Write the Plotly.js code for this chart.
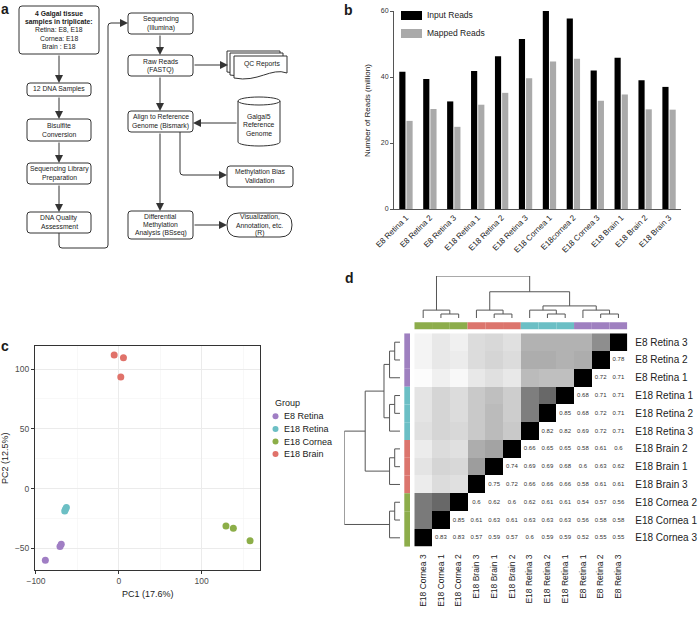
<!DOCTYPE html>
<html><head><meta charset="utf-8">
<script src="https://cdn.plot.ly/plotly-3.0.1.min.js"></script>
<style>html,body{margin:0;padding:0;background:#fff}#chart{width:700px;height:617px}</style>
</head><body><div id="chart"></div>
<script>
const W = 700, H = 617;
const FONT = 'Liberation Sans, Arial, Helvetica, sans-serif';

// ---------------- DATA ----------------
// Panel b
const barLabels = ['E8 Retina 1','E8 Retina 2','E8 Retina 3','E18 Retina 1','E18 Retina 2','E18 Retina 3','E18 Cornea 1','E18cornea 2','E18 Cornea 3','E18 Brain 1','E18 Brain 2','E18 Brain 3'];
const inputReads  = [41.6, 39.4, 32.6, 41.8, 46.3, 51.5, 60.1, 57.7, 42.0, 45.8, 39.0, 37.0];
const mappedReads = [26.7, 30.3, 24.9, 31.6, 35.2, 39.6, 44.7, 45.5, 32.8, 34.7, 30.2, 30.1];

// Panel c
const pcaGroups = ['E8 Retina','E18 Retina','E18 Cornea','E18 Brain'];
const groupColors = ['#a07ec4','#6cbfc4','#8cae48','#e0726a'];
const e8RetinaPC1  = [-69.5, -71.0, -88.7];
const e8RetinaPC2  = [-46.5, -48.5, -60.0];
const e18RetinaPC1 = [-63.3, -64.4, -65.3];
const e18RetinaPC2 = [-15.9, -17.3, -18.7];
const e18CorneaPC1 = [129.4, 138.3, 158.5];
const e18CorneaPC2 = [-31.3, -33.2, -43.6];
const e18BrainPC1  = [-5.6, 5.6, 2.4];
const e18BrainPC2  = [111.7, 109.5, 93.3];

// Panel d
const rowOrder = ['E8 Retina 3','E8 Retina 2','E8 Retina 1','E18 Retina 1','E18 Retina 2','E18 Retina 3','E18 Brain 2','E18 Brain 1','E18 Brain 3','E18 Cornea 2','E18 Cornea 1','E18 Cornea 3'];
const colOrder = rowOrder.slice().reverse();
// correlations to the right of the diagonal, per row (left to right)
const corrValues = [
  [],
  [0.78],
  [0.72, 0.71],
  [0.68, 0.71, 0.71],
  [0.85, 0.68, 0.72, 0.71],
  [0.82, 0.82, 0.69, 0.72, 0.71],
  [0.66, 0.65, 0.65, 0.58, 0.61, 0.6],
  [0.74, 0.69, 0.69, 0.68, 0.6, 0.63, 0.62],
  [0.75, 0.72, 0.66, 0.66, 0.66, 0.58, 0.61, 0.61],
  [0.6, 0.62, 0.6, 0.62, 0.61, 0.61, 0.54, 0.57, 0.56],
  [0.85, 0.61, 0.63, 0.61, 0.63, 0.63, 0.63, 0.56, 0.58, 0.58],
  [0.83, 0.83, 0.57, 0.59, 0.57, 0.6, 0.59, 0.59, 0.52, 0.55, 0.55]
];
// hierarchical clustering merges
const mergeLeft   = ['E18 Cornea 1','E18 Brain 1','E18 Retina 1','E8 Retina 2','E18 Cornea 3','E18 Brain 3','E18 Retina 3','E8 Retina 1','m6','m5','m4'];
const mergeRight  = ['E18 Cornea 2','E18 Brain 2','E18 Retina 2','E8 Retina 3','m0','m1','m2','m3','m7','m8','m9'];
const mergeHeight = [0.038, 0.038, 0.038, 0.038, 0.075, 0.075, 0.075, 0.075, 0.115, 0.25, 0.40];
const heatGroups = ['E8 Retina','E18 Retina','E18 Brain','E18 Cornea'];
const heatGroupColors = ['#9f80c0','#6bbfc5','#dc756d','#8dad4b'];

// ---------------- HELPERS ----------------
const px = x => x / W;
const py = y => 1 - y / H;
const P = (x, y) => `${px(x)},${py(y)}`;
function roundRect(x0, y0, x1, y1, r) {
  return `M${P(x0+r,y0)} L${P(x1-r,y0)} Q${P(x1,y0)} ${P(x1,y0+r)} L${P(x1,y1-r)} Q${P(x1,y1)} ${P(x1-r,y1)} L${P(x0+r,y1)} Q${P(x0,y1)} ${P(x0,y1-r)} L${P(x0,y0+r)} Q${P(x0,y0)} ${P(x0+r,y0)} Z`;
}
const shapes = [];
const annotations = [];
const LC = '#333';
function pathShape(path, fill) {
  shapes.push({type:'path', xref:'paper', yref:'paper', path, fillcolor: fill || 'rgba(0,0,0,0)', line:{color:LC, width:1}, layer:'above'});
}
function label(x, y, text, size, opts) {
  annotations.push(Object.assign({xref:'paper', yref:'paper', x:px(x), y:py(y), text, showarrow:false,
    font:{family:FONT, size, color:'#1a1a1a'}, xanchor:'center', yanchor:'middle', borderpad:0}, opts || {}));
}
function lines(cx, cy, lineList, size, gap) {
  const n = lineList.length;
  lineList.forEach((t, i) => label(cx, cy + (i - (n - 1) / 2) * gap, t, size));
}
function box(x0, y0, x1, y1, lineList, r) {
  pathShape(roundRect(x0, y0, x1, y1, r === undefined ? 3 : r), '#fff');
  lines((x0+x1)/2, (y0+y1)/2, lineList, 6.8, 8.2);
}
function arrow(tx, ty, hx, hy) {
  annotations.push({xref:'paper', yref:'paper', x:px(hx), y:py(hy), ax:tx-hx, ay:ty-hy, text:'', showarrow:true,
    arrowhead:2, arrowsize:1.6, arrowwidth:1, arrowcolor:LC, standoff:0});
}
function docPath(x0, y0, x1, y1) {
  const w = x1 - x0;
  return `M${P(x0,y0)} L${P(x1,y0)} L${P(x1,y1-5)} C${P(x1-0.3*w,y1-11)} ${P(x0+0.45*w,y1+5)} ${P(x0,y1)} Z`;
}

// ---------------- PANEL A (flowchart) ----------------
box(19, 6, 99, 54, ['<b>4 Galgal tissue</b>','<b>samples in triplicate:</b>','Retina: E8, E18','Cornea: E18','Brain : E18']);
box(27, 83, 91, 96, ['12 DNA Samples']);
box(27, 119, 91, 141, ['Bisulfite','Conversion']);
box(27, 163, 91, 184, ['Sequencing Library','Preparation']);
box(27, 212, 91, 233, ['DNA Quality','Assessment']);
arrow(59, 54, 59, 83); arrow(59, 96, 59, 119); arrow(59, 141, 59, 163); arrow(59, 184, 59, 212);
pathShape(`M${P(59,233)} L${P(59,245)} Q${P(59,248)} ${P(62,248)} L${P(105,248)} Q${P(108,248)} ${P(108,245)} L${P(108,26)} Q${P(108,23)} ${P(111,23)} L${P(120,23)}`);
arrow(119, 23, 128, 23);
box(128, 13, 193, 34, ['Sequencing','(Illumina)']);
arrow(160, 34, 160, 55);
box(128, 55, 193, 76, ['Raw Reads','(FASTQ)']);
arrow(193, 65, 228, 65);
pathShape(docPath(227, 51, 280, 72), '#fff');
pathShape(docPath(230, 53, 283, 75), '#fff');
pathShape(docPath(234, 56, 287, 78), '#fff');
label(262, 64, 'QC Reports', 6.8);
arrow(160, 76, 160, 111);
box(128, 111, 193, 132, ['Align to Reference','Genome (Bismark)']);
// cylinder
(function(){
  const x0 = 238, x1 = 280, yt = 97, yb = 146, ry = 4, cx = 259, rx = 21, k = 0.5523;
  const c = yt + ry, b = yb - ry;
  pathShape(`M${P(x0,c)} L${P(x0,b)} C${P(x0,b+k*ry)} ${P(cx-k*rx,yb)} ${P(cx,yb)} C${P(cx+k*rx,yb)} ${P(x1,b+k*ry)} ${P(x1,b)} L${P(x1,c)} C${P(x1,c-k*ry)} ${P(cx+k*rx,yt)} ${P(cx,yt)} C${P(cx-k*rx,yt)} ${P(x0,c-k*ry)} ${P(x0,c)} Z`, '#fff');
  pathShape(`M${P(x0,c)} C${P(x0,c+k*ry)} ${P(cx-k*rx,c+ry)} ${P(cx,c+ry)} C${P(cx+k*rx,c+ry)} ${P(x1,c+k*ry)} ${P(x1,c)}`);
  lines(259, 125, ['Galgal5','Reference','Genome'], 6.8, 8.2);
})();
arrow(238, 123, 193, 123);
pathShape(`M${P(180,132)} L${P(180,172)} Q${P(180,175)} ${P(183,175)} L${P(219,175)}`);
arrow(218, 175, 227, 175);
box(227, 166, 293, 187, ['Methylation Bias','Validation']);
arrow(160, 132, 160, 211);
box(128, 211, 193, 239, ['Differential','Methylation','Analysis (BSseq)']);
arrow(193, 225, 227, 225);
box(227, 213, 292, 237, ['Visualization,','Annotation, etc.','(R)'], 12);

// panel letters
label(5, 9, '<b>a</b>', 14);
label(348, 10, '<b>b</b>', 14);
label(5, 346, '<b>c</b>', 14);
label(349, 278, '<b>d</b>', 14);

// ---------------- PANEL B (bars) ----------------
const traces = [];
traces.push({type:'bar', x:barLabels, y:inputReads, name:'Input Reads', marker:{color:'#000'}, xaxis:'x', yaxis:'y', showlegend:false, hoverinfo:'skip'});
traces.push({type:'bar', x:barLabels, y:mappedReads, name:'Mapped Reads', marker:{color:'#aaaaaa'}, xaxis:'x', yaxis:'y', showlegend:false, hoverinfo:'skip'});
shapes.push({type:'rect', xref:'paper', yref:'paper', x0:px(401), x1:px(422), y0:py(20), y1:py(11), fillcolor:'#000', line:{width:0}});
shapes.push({type:'rect', xref:'paper', yref:'paper', x0:px(401), x1:px(422), y0:py(38), y1:py(29), fillcolor:'#aaaaaa', line:{width:0}});
label(426, 15.5, 'Input Reads', 8.5, {xanchor:'left'});
label(426, 33.5, 'Mapped Reads', 8.5, {xanchor:'left'});
label(367, 110, 'Number of Reads (million)', 8, {textangle:-90});

// ---------------- PANEL C (PCA) ----------------
const pcaX = [e8RetinaPC1, e18RetinaPC1, e18CorneaPC1, e18BrainPC1];
const pcaY = [e8RetinaPC2, e18RetinaPC2, e18CorneaPC2, e18BrainPC2];
pcaGroups.forEach((g, i) => {
  traces.push({type:'scatter', mode:'markers', x:pcaX[i], y:pcaY[i], name:g, xaxis:'x2', yaxis:'y2',
    marker:{color:groupColors[i], size:7}, showlegend:false, hoverinfo:'skip', cliponaxis:false});
});
label(148, 594, 'PC1 (17.6%)', 9);
label(5, 458, 'PC2 (12.5%)', 9, {textangle:-90});
label(274, 403, 'Group', 9, {xanchor:'left'});
pcaGroups.forEach((g, i) => {
  const yy = 416.3 + i * 12.6;
  shapes.push({type:'circle', xref:'paper', yref:'paper', x0:px(272.5), x1:px(278.5), y0:py(yy+3), y1:py(yy-3), fillcolor:groupColors[i], line:{width:0}});
  label(283, yy, g, 9, {xanchor:'left'});
});

// ---------------- PANEL D (heatmap) ----------------
const n = rowOrder.length;
const M = [];
for (let i = 0; i < n; i++) { M.push(new Array(n).fill(null)); }
for (let i = 0; i < n; i++) {
  M[i][n-1-i] = 1;
  corrValues[i].forEach((v, k) => { M[i][n-i+k] = v; });
}
const Z = [];
const tx = [], ty = [], tt = [];
for (let i = 0; i < n; i++) {
  const row = [];
  for (let j = 0; j < n; j++) {
    if (j < n-1-i) row.push(M[n-1-j][n-1-i]);
    else if (j === n-1-i) row.push(1);
    else { row.push(null); tx.push(j); ty.push(i); tt.push(String(M[i][j])); }
  }
  Z.push(row);
}
traces.push({type:'heatmap', z:Z, x:[...Array(n).keys()], y:[...Array(n).keys()], xaxis:'x3', yaxis:'y3',
  zmin:0.5, zmax:1, showscale:false, hoverinfo:'skip',
  colorscale:[[0,'#ffffff'],[0.08,'#f8f8f8'],[0.14,'#ececec'],[0.22,'#dcdcdc'],[0.3,'#cdcdcd'],[0.42,'#b2b2b2'],[0.56,'#8e8e8e'],[0.66,'#7a7a7a'],[0.7,'#686868'],[1,'#000000']]});
traces.push({type:'scatter', mode:'text', x:tx, y:ty, text:tt, xaxis:'x3', yaxis:'y3', showlegend:false, hoverinfo:'skip',
  textfont:{family:FONT, size:6, color:'#333'}, cliponaxis:false});

const groupOf = name => name.replace(/ \d+$/, '');
const colorOf = name => heatGroupColors[heatGroups.indexOf(groupOf(name))];
colOrder.forEach((s, j) => {
  shapes.push({type:'rect', xref:'x3', yref:'paper', x0:j-0.5, x1:j+0.5, y0:py(329.3), y1:py(322.3), fillcolor:colorOf(s), line:{width:0}});
});
rowOrder.forEach((s, i) => {
  shapes.push({type:'rect', xref:'paper', yref:'y3', x0:px(404.3), x1:px(410), y0:i-0.5, y1:i+0.5, fillcolor:colorOf(s), line:{width:0}});
});

// dendrograms
function dendro(order) {
  const pos = {}, hgt = {};
  order.forEach((s, i) => { pos[s] = i; hgt[s] = 0; });
  const a = [], b = [];
  mergeLeft.forEach((l, k) => {
    const r = mergeRight[k], h = mergeHeight[k];
    a.push(pos[l], pos[l], pos[r], pos[r], null);
    b.push(hgt[l], h, h, hgt[r], null);
    pos['m'+k] = (pos[l] + pos[r]) / 2; hgt['m'+k] = h;
  });
  return [a, b];
}
const [dtp, dth] = dendro(colOrder);
traces.push({type:'scatter', mode:'lines', x:dtp, y:dth, xaxis:'x4', yaxis:'y4', line:{color:'#555', width:1}, showlegend:false, hoverinfo:'skip', cliponaxis:false});
const [dlp, dlh] = dendro(rowOrder);
traces.push({type:'scatter', mode:'lines', x:dlh, y:dlp, xaxis:'x5', yaxis:'y5', line:{color:'#555', width:1}, showlegend:false, hoverinfo:'skip', cliponaxis:false});

const hidden = {visible:false, showgrid:false, zeroline:false, fixedrange:true};
const layout = {
  width:W, height:H, margin:{l:0, r:0, t:0, b:0}, paper_bgcolor:'#fff', plot_bgcolor:'rgba(0,0,0,0)',
  font:{family:FONT, color:'#222'}, hovermode:false, showlegend:false,
  barmode:'group', bargap:0.4, bargroupgap:0.14,
  xaxis:{domain:[px(394), px(681)], anchor:'y', type:'category', showline:true, linecolor:'#555', linewidth:1,
    ticks:'', tickangle:-45, tickfont:{size:8, color:'#222'}, showgrid:false, zeroline:false},
  yaxis:{domain:[py(209), py(11)], anchor:'x', range:[0,60], tickvals:[0,20,40,60], showline:true, linecolor:'#555', linewidth:1,
    ticks:'outside', ticklen:3, tickcolor:'#555', tickfont:{size:7, color:'#333'}, showgrid:false, zeroline:false},
  xaxis2:{domain:[px(35), px(260)], anchor:'y2', range:[-101.2, 170.5], tick0:0, dtick:100, showline:true, mirror:true,
    linecolor:'#333', linewidth:1, ticks:'outside', ticklen:3, tickcolor:'#333', tickfont:{size:8.5, color:'#4d4d4d'},
    showgrid:true, gridcolor:'#ebebeb', gridwidth:1, zeroline:false,
    minor:{dtick:50, tick0:0, showgrid:true, gridcolor:'#f4f4f4', gridwidth:0.6, ticks:''}},
  yaxis2:{domain:[py(570), py(345.7)], anchor:'x2', range:[-68.1, 119.5], tick0:0, dtick:50, showline:true, mirror:true,
    linecolor:'#333', linewidth:1, ticks:'outside', ticklen:3, tickcolor:'#333', tickfont:{size:8.5, color:'#4d4d4d'},
    showgrid:true, gridcolor:'#ebebeb', gridwidth:1, zeroline:false,
    minor:{dtick:25, tick0:0, showgrid:true, gridcolor:'#f4f4f4', gridwidth:0.6, ticks:''}},
  xaxis3:{domain:[px(414.3), px(627.3)], anchor:'y3', range:[-0.5, 11.5], tickvals:[...Array(n).keys()], ticktext:colOrder,
    tickangle:-90, ticks:'', showgrid:false, zeroline:false, showline:false, tickfont:{size:8.5, color:'#222'}, ticklabelstandoff:5},
  yaxis3:{domain:[py(546.7), py(333.3)], anchor:'x3', range:[11.5, -0.5], side:'right', tickvals:[...Array(n).keys()], ticktext:rowOrder,
    ticks:'', showgrid:false, zeroline:false, showline:false, tickfont:{size:10, color:'#222'}, ticklabelstandoff:7},
  xaxis4:Object.assign({domain:[px(414.3), px(627.3)], anchor:'y4', range:[-0.5, 11.5]}, hidden),
  yaxis4:Object.assign({domain:[py(318), py(276)], anchor:'x4', range:[0, 0.40]}, hidden),
  xaxis5:Object.assign({domain:[px(344.3), px(400)], anchor:'y5', range:[0.40, 0]}, hidden),
  yaxis5:Object.assign({domain:[py(546.7), py(333.3)], anchor:'x5', range:[11.5, -0.5]}, hidden),
  shapes, annotations
};
Plotly.newPlot('chart', traces, layout, {displayModeBar:false, staticPlot:true});
</script>
</body></html>
